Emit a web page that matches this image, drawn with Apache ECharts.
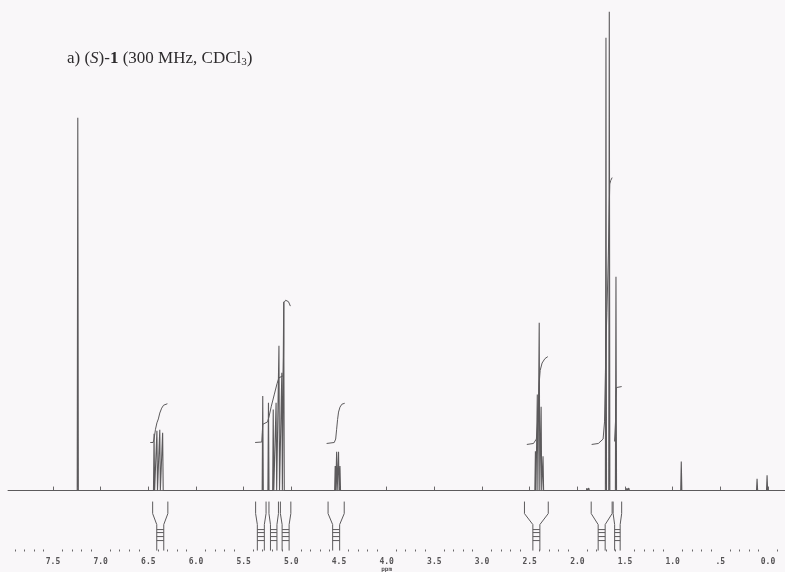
<!DOCTYPE html>
<html>
<head>
<meta charset="utf-8">
<script src="https://cdn.jsdelivr.net/npm/echarts@6/dist/echarts.min.js"></script>
<style>
  html, body { margin: 0; padding: 0; background: #f9f7f9; }
  #chart { width: 785px; height: 572px; }
</style>
</head>
<body>
<div id="chart"></div>
<script>
// 1H NMR spectrum of (S)-1, 300 MHz, CDCl3

// chemical shift axis (ppm)
const ppmMin = -0.178;
const ppmMax = 7.972;
const tickPpm = [0, 0.5, 1, 1.5, 2, 2.5, 3, 3.5, 4, 4.5, 5, 5.5, 6, 6.5, 7, 7.5];
const tickLabels = ['0.0', '.5', '1.0', '1.5', '2.0', '2.5', '3.0', '3.5', '4.0', '4.5', '5.0', '5.5', '6.0', '6.5', '7.0', '7.5'];
const minorTickPpm = [];
for (let i = -1; i <= 79; i++) { if (i % 5 !== 0) minorTickPpm.push(i / 10); }

// resolved lines: position (ppm) and relative intensity
const peakPpm = [7.60, 7.24, 6.90,
  6.44, 6.41, 6.38, 6.35,
  5.30, 5.24, 5.19, 5.16, 5.13, 5.10, 5.08,
  4.54, 4.525, 4.505, 4.49,
  2.44, 2.42, 2.40, 2.38, 2.36,
  1.90, 1.88, 1.70, 1.665, 1.595, 1.48, 1.46,
  0.91, 0.115, 0.01];
const peakHeight = [0.4, 76.0, 0.4,
  11.6, 12.2, 12.4, 11.8,
  19.3, 17.9, 16.5, 17.9, 29.5, 24.0, 38.5,
  5.0, 7.9, 7.9, 5.0,
  8.0, 19.6, 34.2, 17.1, 7.0,
  0.5, 0.5, 92.3, 97.6, 43.6, 0.5, 0.5,
  5.9, 2.4, 3.1];
const lineHalfWidth = 0.006;

// integration regions [from, to] in ppm
const integralRegions = [
  [6.46, 6.29],
  [5.38, 5.26], [5.24, 5.13], [5.12, 5.00],
  [4.62, 4.44],
  [2.56, 2.30],
  [1.86, 1.63], [1.63, 1.53]
];

// running integral traces [ppm, level]
const integral64 = [[6.48, 9.8], [6.45, 9.8], [6.44, 10.5], [6.425, 12.5], [6.41, 13.8], [6.395, 14.6], [6.38, 15.8], [6.36, 16.8], [6.34, 17.4], [6.30, 17.7]];
const integral52 = [[5.38, 9.8], [5.31, 9.9], [5.30, 13.5], [5.29, 13.9], [5.25, 14.0], [5.235, 15.0], [5.21, 17.2], [5.18, 19.5], [5.15, 21.8], [5.13, 23.0], [5.085, 23.4], [5.08, 30.0], [5.078, 38.3], [5.06, 38.8], [5.03, 38.5], [5.01, 37.6]];
const integral45 = [[4.63, 9.6], [4.55, 9.8], [4.535, 10.5], [4.525, 12.5], [4.515, 14.5], [4.505, 16.0], [4.49, 17.0], [4.47, 17.6], [4.44, 17.8]];
const integral24 = [[2.53, 9.4], [2.46, 9.6], [2.43, 10.5], [2.42, 13.0], [2.41, 17.0], [2.40, 22.0], [2.39, 24.5], [2.37, 26.0], [2.34, 26.9], [2.31, 27.3]];
const integral17 = [[1.85, 9.4], [1.78, 9.6], [1.73, 10.5], [1.715, 14.0], [1.70, 30.0], [1.69, 36.3], [1.675, 48.0], [1.665, 58.0], [1.66, 62.5], [1.65, 63.2], [1.635, 63.8]];
const integral16 = [[1.61, 10.0], [1.60, 14.0], [1.595, 19.0], [1.59, 21.0], [1.57, 21.3], [1.535, 21.2]];

// build the spectrum trace from the line list (highest ppm first)
function spectrumData() {
  const order = peakPpm.map((p, i) => i).sort((a, b) => peakPpm[b] - peakPpm[a]);
  const out = [[ppmMax, 0]];
  order.forEach(i => {
    out.push([peakPpm[i] + lineHalfWidth, 0]);
    out.push([peakPpm[i], peakHeight[i]]);
    out.push([peakPpm[i] - lineHalfWidth, 0]);
  });
  out.push([ppmMin, 0]);
  return out;
}

const ink = '#5c5a5c';

function integralSeries(data) {
  return {
    type: 'line', data: data, showSymbol: false, silent: true,
    lineStyle: { color: ink, width: 1 }, z: 3
  };
}

// bracket drawn under each integration region
function renderRegion(params, api) {
  const a = api.coord([api.value(0), 0]);
  const b = api.coord([api.value(1), 0]);
  const x1 = Math.min(a[0], b[0]) + 0.5;
  const x2 = Math.max(a[0], b[0]) - 0.5;
  const y0 = a[1];
  const cx = (x1 + x2) / 2;
  const hw = Math.max(1.5, Math.min(3.5, (x2 - x1) / 2 - 1.5));
  const style = { stroke: ink, lineWidth: 1, fill: null };
  const children = [
    { type: 'polyline', shape: { points: [[x1, y0 + 11], [x1, y0 + 23], [cx - hw, y0 + 34], [cx - hw, y0 + 60]] }, style: style },
    { type: 'polyline', shape: { points: [[x2, y0 + 11], [x2, y0 + 23], [cx + hw, y0 + 34], [cx + hw, y0 + 60]] }, style: style }
  ];
  [39, 42, 46, 50].forEach(d => {
    children.push({ type: 'line', shape: { x1: cx - hw, y1: y0 + d, x2: cx + hw, y2: y0 + d }, style: style });
  });
  return { type: 'group', children: children };
}

const chart = echarts.init(document.getElementById('chart'), null, { renderer: 'canvas' });

chart.setOption({
  backgroundColor: '#f9f7f9',
  animation: false,
  title: {
    text: 'a) ({i|S})-{b|1} (300 MHz, CDCl{s|3})',
    left: 62, top: 45,
    textStyle: {
      fontFamily: 'Liberation Serif', fontSize: 17, fontWeight: 'normal', color: '#2e2c2e',
      rich: {
        i: { fontFamily: 'Liberation Serif', fontSize: 17, fontStyle: 'italic', color: '#2e2c2e' },
        b: { fontFamily: 'Liberation Serif', fontSize: 17, fontWeight: 'bold', color: '#2e2c2e' },
        s: { fontFamily: 'Liberation Serif', fontSize: 11, color: '#2e2c2e', padding: [7, 0, 0, 0] }
      }
    }
  },
  grid: { left: 8, right: 0, top: 0, bottom: 20 },
  xAxis: [{
    type: 'value', min: ppmMin, max: ppmMax, inverse: true, position: 'bottom',
    axisLine: { lineStyle: { color: '#6a686a', width: 1 } },
    axisTick: { customValues: tickPpm, inside: true, length: 4, lineStyle: { color: '#6a686a' } },
    axisLabel: {
      customValues: tickPpm, margin: 6, fontSize: 8, fontFamily: 'DejaVu Sans Mono', fontWeight: 'bold', color: '#555355',
      formatter: function (v) {
        const k = tickPpm.findIndex(t => Math.abs(t - v) < 1e-6);
        const s = k >= 0 ? tickLabels[k] : '';
        return Math.abs(v - 4) < 1e-6 ? s + '\n{p|ppm}' : s;
      },
      rich: { p: { fontSize: 6, fontFamily: 'DejaVu Sans Mono', color: '#555355', lineHeight: 7 } }
    },
    splitLine: { show: false }
  }, {
    type: 'value', min: ppmMin, max: ppmMax, inverse: true, position: 'bottom',
    axisLine: { show: false },
    axisTick: { customValues: minorTickPpm, inside: true, length: 2, lineStyle: { color: '#6a686a' } },
    axisLabel: { show: false },
    splitLine: { show: false }
  }],
  yAxis: { type: 'value', min: -12.42, max: 100, show: false },
  series: [
    {
      type: 'line', data: spectrumData(), showSymbol: false, silent: true,
      lineStyle: { color: ink, width: 1.1 }, z: 2
    },
    integralSeries(integral64),
    integralSeries(integral52),
    integralSeries(integral45),
    integralSeries(integral24),
    integralSeries(integral17),
    integralSeries(integral16),
    {
      type: 'custom', data: integralRegions, renderItem: renderRegion,
      encode: { x: [0, 1] }, silent: true, clip: false, z: 3
    }
  ]
});
</script>
</body>
</html>
